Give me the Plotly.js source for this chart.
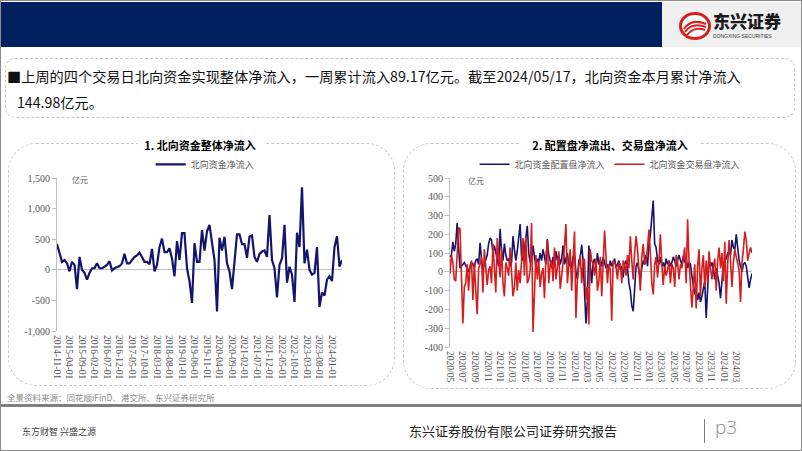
<!DOCTYPE html>
<html><head><meta charset="utf-8">
<script src="https://cdn.plot.ly/plotly-3.0.1.min.js"></script>
<style>
html,body{margin:0;padding:0;background:#fff;}
body{width:802px;height:451px;position:relative;overflow:hidden;font-family:"Noto Sans CJK SC","Noto Sans",sans-serif;}
.abs{position:absolute;}
.txt{white-space:nowrap;}
</style></head><body>
<div class="abs" style="left:0;top:0;width:800px;height:449px;border:1px solid #8c8c8c;"></div>
<div class="abs" style="left:1px;top:2px;width:661px;height:45px;background:#002060;"></div>
<div class="abs" style="left:662px;top:2px;width:139px;height:45px;background:#f0f0f0;"></div>
<svg class="abs" style="left:679px;top:12px" width="32" height="28" viewBox="0 0 32 28">
  <ellipse cx="16" cy="14" rx="14.5" ry="12.5" fill="#fff" stroke="#d6201f" stroke-width="3"/>
  <path d="M5 17 Q12 6 27 12" stroke="#d6201f" stroke-width="2" fill="none"/>
  <path d="M6 20 Q13 10 27 15" stroke="#d6201f" stroke-width="2" fill="none"/>
  <path d="M8 23 Q15 14 26 18" stroke="#d6201f" stroke-width="2" fill="none"/>
</svg>
<div class="abs txt" style="left:713px;top:11px;font-size:17px;line-height:20px;font-weight:900;color:#1a1a1a;">东兴证券</div>
<div class="abs txt" style="left:713px;top:33px;font-size:5px;line-height:6px;color:#333;font-family:'Liberation Sans'">DONGXING SECURITIES</div>

<div class="abs" style="left:5px;top:58px;width:788px;height:58px;border:1px dashed #c8c8c8;border-radius:10px;"></div>
<div class="abs txt" style="left:7px;top:66px;font-size:14.2px;line-height:20px;color:#111;">■上周的四个交易日北向资金实现整体净流入，一周累计流入89.17亿元。截至2024/05/17，北向资金本月累计净流入</div>
<div class="abs txt" style="left:17px;top:92px;font-size:14.2px;line-height:20px;color:#111;">144.98亿元。</div>

<div class="abs" style="left:8px;top:143px;width:385px;height:241px;border:1px dashed #c9c9c9;border-radius:28px;"></div>
<div class="abs" style="left:403px;top:143px;width:391px;height:244px;border:1px dashed #c9c9c9;border-radius:28px;"></div>
<div class="abs" style="left:138px;top:138px;width:126px;height:14px;background:#fff;"></div>
<div class="abs" style="left:520px;top:138px;width:180px;height:14px;background:#fff;"></div>

<div id="c1" class="abs" style="left:8px;top:138px;width:387px;height:250px;"></div>
<div id="c2" class="abs" style="left:403px;top:138px;width:392px;height:250px;"></div>

<div class="abs txt" style="left:7px;top:391px;font-size:8.5px;line-height:12px;color:#8c8c8c;">全景资料来源：同花顺iFinD、港交所、东兴证券研究所</div>
<div class="abs" style="left:1px;top:404px;width:800px;height:3px;background:#808080;"></div>
<div class="abs txt" style="left:22px;top:426px;font-size:9px;line-height:12px;color:#404040;">东方财智 兴盛之源</div>
<div class="abs txt" style="left:409px;top:422px;font-size:13px;line-height:18px;color:#222;">东兴证券股份有限公司证券研究报告</div>
<div class="abs" style="left:704px;top:419px;width:1px;height:24px;background:#7f7f7f;"></div>
<div class="abs txt" style="left:715px;top:416px;font-size:19px;line-height:22px;color:#8c8c8c;font-family:'Open Sans';font-weight:300;">p3</div>

<script>
// ---- Chart 1: 北向资金净流入 (monthly, 亿元), 2014-11 .. 2024-05
const startMonth1 = [2014, 11];
const northNetFlow = [
 420,290,130,160,105,-25,130,80,-315,210,
 0,-50,-160,-50,25,25,105,25,25,50,
 80,140,-10,25,40,60,105,260,105,105,
 160,210,235,280,210,130,130,90,340,-25,
 80,370,510,290,290,350,185,-105,470,160,
 600,600,25,-185,-540,435,130,130,650,315,
 630,735,445,160,-680,525,315,540,105,-25,
 -315,160,580,580,420,420,195,540,560,210,
 130,260,300,315,210,895,160,25,-450,80,
 185,735,-210,50,-80,-525,605,370,1350,105,
 330,0,-80,-50,370,-605,-370,-420,-160,-105,
 -185,370,550,50,160
];
const xTicks1 = ["2014-11-01","2015-04-01","2015-09-01","2016-02-01","2016-07-01","2016-12-01","2017-05-01","2017-10-01","2018-03-01","2018-08-01","2019-01-01","2019-06-01","2019-11-01","2020-04-01","2020-09-01","2021-02-01","2021-07-01","2021-12-01","2022-05-01","2022-10-01","2023-03-01","2023-08-01","2024-01-01"];
const yTickVals1 = [-1000,-500,0,500,1000,1500];
const yTickText1 = ["-1,000","-500","0","500","1,000","1,500"];

// ---- Chart 2: 配置盘 / 交易盘 (weekly, 亿元), 2020-05-01 .. 2024-05-17
const startWeek2 = "2020-05-01";
const allocationFlow = [
 80,90,160,110,150,260,130,20,30,40,
 50,35,20,0,30,50,40,20,60,70,
 40,155,70,10,40,60,90,150,180,170,
 100,140,100,60,30,230,110,60,150,90,
 60,70,30,50,190,120,60,110,200,255,
 80,60,120,180,245,100,50,60,140,80,
 30,70,50,100,60,120,80,40,175,90,
 60,20,80,50,110,60,90,40,70,140,
 40,70,100,30,60,20,80,90,0,-40,
 60,80,145,60,-90,-275,-150,140,40,-60,
 50,70,20,100,40,60,30,80,50,20,
 40,10,60,30,50,70,20,40,60,10,
 30,-30,40,60,20,-60,-100,-180,-210,-90,
 30,50,10,-40,20,60,40,90,30,150,
 200,300,380,150,130,60,40,80,30,50,
 20,70,40,60,30,50,80,60,30,60,
 90,60,40,85,50,70,20,50,40,-20,
 -80,-120,-100,-150,-110,-160,-130,-90,-50,-245,
 -100,60,30,50,10,-40,20,-30,-60,-140,
 -20,40,60,70,100,110,90,170,130,120,
 200,110,60,30,0,40,50,30,-20,-85,
 -40,-10
];
const tradingFlow = [
 -10,90,50,-40,-50,120,235,230,-100,-275,
 -80,-60,40,-100,30,60,-150,50,-100,-225,
 20,40,80,-110,120,40,-70,10,30,-60,
 150,20,-110,180,80,-30,130,-60,-130,50,
 20,-20,130,10,-130,-80,50,-100,10,-60,
 40,180,-20,190,-60,-40,10,260,-320,-150,
 90,-40,60,-80,-10,20,-140,70,170,-60,
 40,60,-50,130,-40,20,110,-90,-30,50,
 140,255,-60,40,120,-100,80,215,-245,-40,
 30,90,-60,50,70,-150,-80,-280,120,60,
 40,-20,70,-100,-50,80,-130,30,220,80,
 -60,40,10,-260,60,50,30,-40,50,40,
 -60,60,40,-20,90,20,190,60,-40,100,
 190,120,30,-100,80,150,40,60,130,225,
 100,-60,-120,40,80,-30,60,200,40,-70,
 30,-20,10,60,-60,40,20,-80,90,50,
 -40,40,20,80,130,-60,280,60,-40,-190,
 -80,40,-195,30,120,-130,20,90,-80,60,
 -60,110,20,-40,30,70,-100,60,130,20,
 100,-50,160,-170,40,170,60,-80,50,120,
 80,40,10,-160,50,120,215,170,60,100,
 130,100
];
const xTickVals2 = ["2020-05-01","2020-07-01","2020-09-01","2020-11-01","2021-01-01","2021-03-01","2021-05-01","2021-07-01","2021-09-01","2021-11-01","2022-01-01","2022-03-01","2022-05-01","2022-07-01","2022-09-01","2022-11-01","2023-01-01","2023-03-01","2023-05-01","2023-07-01","2023-09-01","2023-11-01","2024-01-01","2024-03-01"];
const xTickText2 = ["2020/05","2020/07","2020/09","2020/11","2021/01","2021/03","2021/05","2021/07","2021/09","2021/11","2022/01","2022/03","2022/05","2022/07","2022/09","2022/11","2023/01","2023/03","2023/05","2023/07","2023/09","2023/11","2024/01","2024/03"];
const yTickVals2 = [-400,-300,-200,-100,0,100,200,300,400,500];
const yTickText2 = ["-400","-300","-200","-100","0","100","200","300","400","500"];

const NAVY = "#14146e", RED = "#d61c1c", AXIS = "#bfbfbf", TICK = "#595959";

// month categories for chart 1
const months1 = [];
{ let y = startMonth1[0], m = startMonth1[1];
  for (let i = 0; i < northNetFlow.length; i++) {
    months1.push(y + "-" + String(m).padStart(2, "0") + "-01");
    m++; if (m > 12) { m = 1; y++; }
  } }
// weekly dates for chart 2
const weeks2 = [];
{ const d0 = new Date(startWeek2 + "T00:00:00Z");
  for (let i = 0; i < allocationFlow.length; i++) {
    const d = new Date(d0.getTime() + i * 7 * 86400000);
    weeks2.push(d.toISOString().slice(0, 10));
  } }

const serif = "Liberation Serif, Times New Roman, serif";
const cjk = "Noto Sans CJK SC, sans-serif";

Plotly.newPlot("c1", [{
  x: months1, y: northNetFlow, type: "scatter", mode: "lines",
  name: "北向资金净流入", line: {color: NAVY, width: 2.2}
}], {
  width: 387, height: 250,
  margin: {l: 49, r: 53, t: 36, b: 57},
  paper_bgcolor: "rgba(0,0,0,0)", plot_bgcolor: "rgba(0,0,0,0)",
  title: {text: "1. 北向资金整体净流入", font: {family: cjk, size: 11, color: "#000", weight: 700},
          xref: "container", x: 0.496, xanchor: "center", yref: "container", y: 0.968, yanchor: "middle"},
  showlegend: true,
  legend: {orientation: "h", x: 0.52, xanchor: "center", y: 1.089, yanchor: "middle",
           font: {family: cjk, size: 9, color: TICK}, bgcolor: "rgba(0,0,0,0)", itemwidth: 30},
  xaxis: {type: "category", range: [0, northNetFlow.length - 1], tickmode: "array",
          tickvals: xTicks1, ticktext: xTicks1, tickangle: 90, ticklabelstandoff: 3,
          tickfont: {family: serif, size: 9.5, color: TICK},
          showgrid: false, showline: false, zeroline: false, ticks: ""},
  yaxis: {range: [-1000, 1500], tickmode: "array", tickvals: yTickVals1, ticktext: yTickText1,
          tickfont: {family: serif, size: 10, color: TICK},
          showgrid: false, showline: true, linecolor: AXIS, linewidth: 1,
          ticks: "outside", ticklen: 4, tickcolor: AXIS,
          zeroline: true, zerolinecolor: AXIS, zerolinewidth: 1},
  annotations: [{text: "亿元", xref: "paper", yref: "paper", x: 0.045, y: 0.987,
                 xanchor: "left", yanchor: "middle", showarrow: false,
                 font: {family: cjk, size: 8, color: TICK}}]
}, {staticPlot: true, displayModeBar: false});

Plotly.newPlot("c2", [{
  x: weeks2, y: allocationFlow, type: "scatter", mode: "lines",
  name: "北向资金配置盘净流入", line: {color: NAVY, width: 1.6}
}, {
  x: weeks2, y: tradingFlow, type: "scatter", mode: "lines",
  name: "北向资金交易盘净流入", line: {color: RED, width: 1.6}
}], {
  width: 392, height: 250,
  margin: {l: 47, r: 43, t: 36, b: 41},
  paper_bgcolor: "rgba(0,0,0,0)", plot_bgcolor: "rgba(0,0,0,0)",
  title: {text: "2. 配置盘净流出、交易盘净流入", font: {family: cjk, size: 11, color: "#000", weight: 700},
          xref: "container", x: 0.528, xanchor: "center", yref: "container", y: 0.968, yanchor: "middle"},
  showlegend: true,
  legend: {orientation: "h", x: 0.53, xanchor: "center", y: 1.081, yanchor: "middle",
           font: {family: cjk, size: 9, color: TICK}, bgcolor: "rgba(0,0,0,0)", itemwidth: 30},
  xaxis: {type: "date", range: [weeks2[0], weeks2[weeks2.length - 1]], tickmode: "array",
          tickvals: xTickVals2, ticktext: xTickText2, tickangle: 90, ticklabelstandoff: 3,
          tickfont: {family: serif, size: 9.5, color: TICK},
          showgrid: false, showline: false, zeroline: false, ticks: ""},
  yaxis: {range: [-400, 500], tickmode: "array", tickvals: yTickVals2, ticktext: yTickText2,
          tickfont: {family: serif, size: 10, color: TICK},
          showgrid: false, showline: true, linecolor: AXIS, linewidth: 1,
          ticks: "outside", ticklen: 4, tickcolor: AXIS,
          zeroline: true, zerolinecolor: AXIS, zerolinewidth: 1},
  annotations: [{text: "亿元", xref: "paper", yref: "paper", x: 0.053, y: 0.988,
                 xanchor: "left", yanchor: "middle", showarrow: false,
                 font: {family: cjk, size: 8, color: TICK}}]
}, {staticPlot: true, displayModeBar: false});
</script>
</body></html>
